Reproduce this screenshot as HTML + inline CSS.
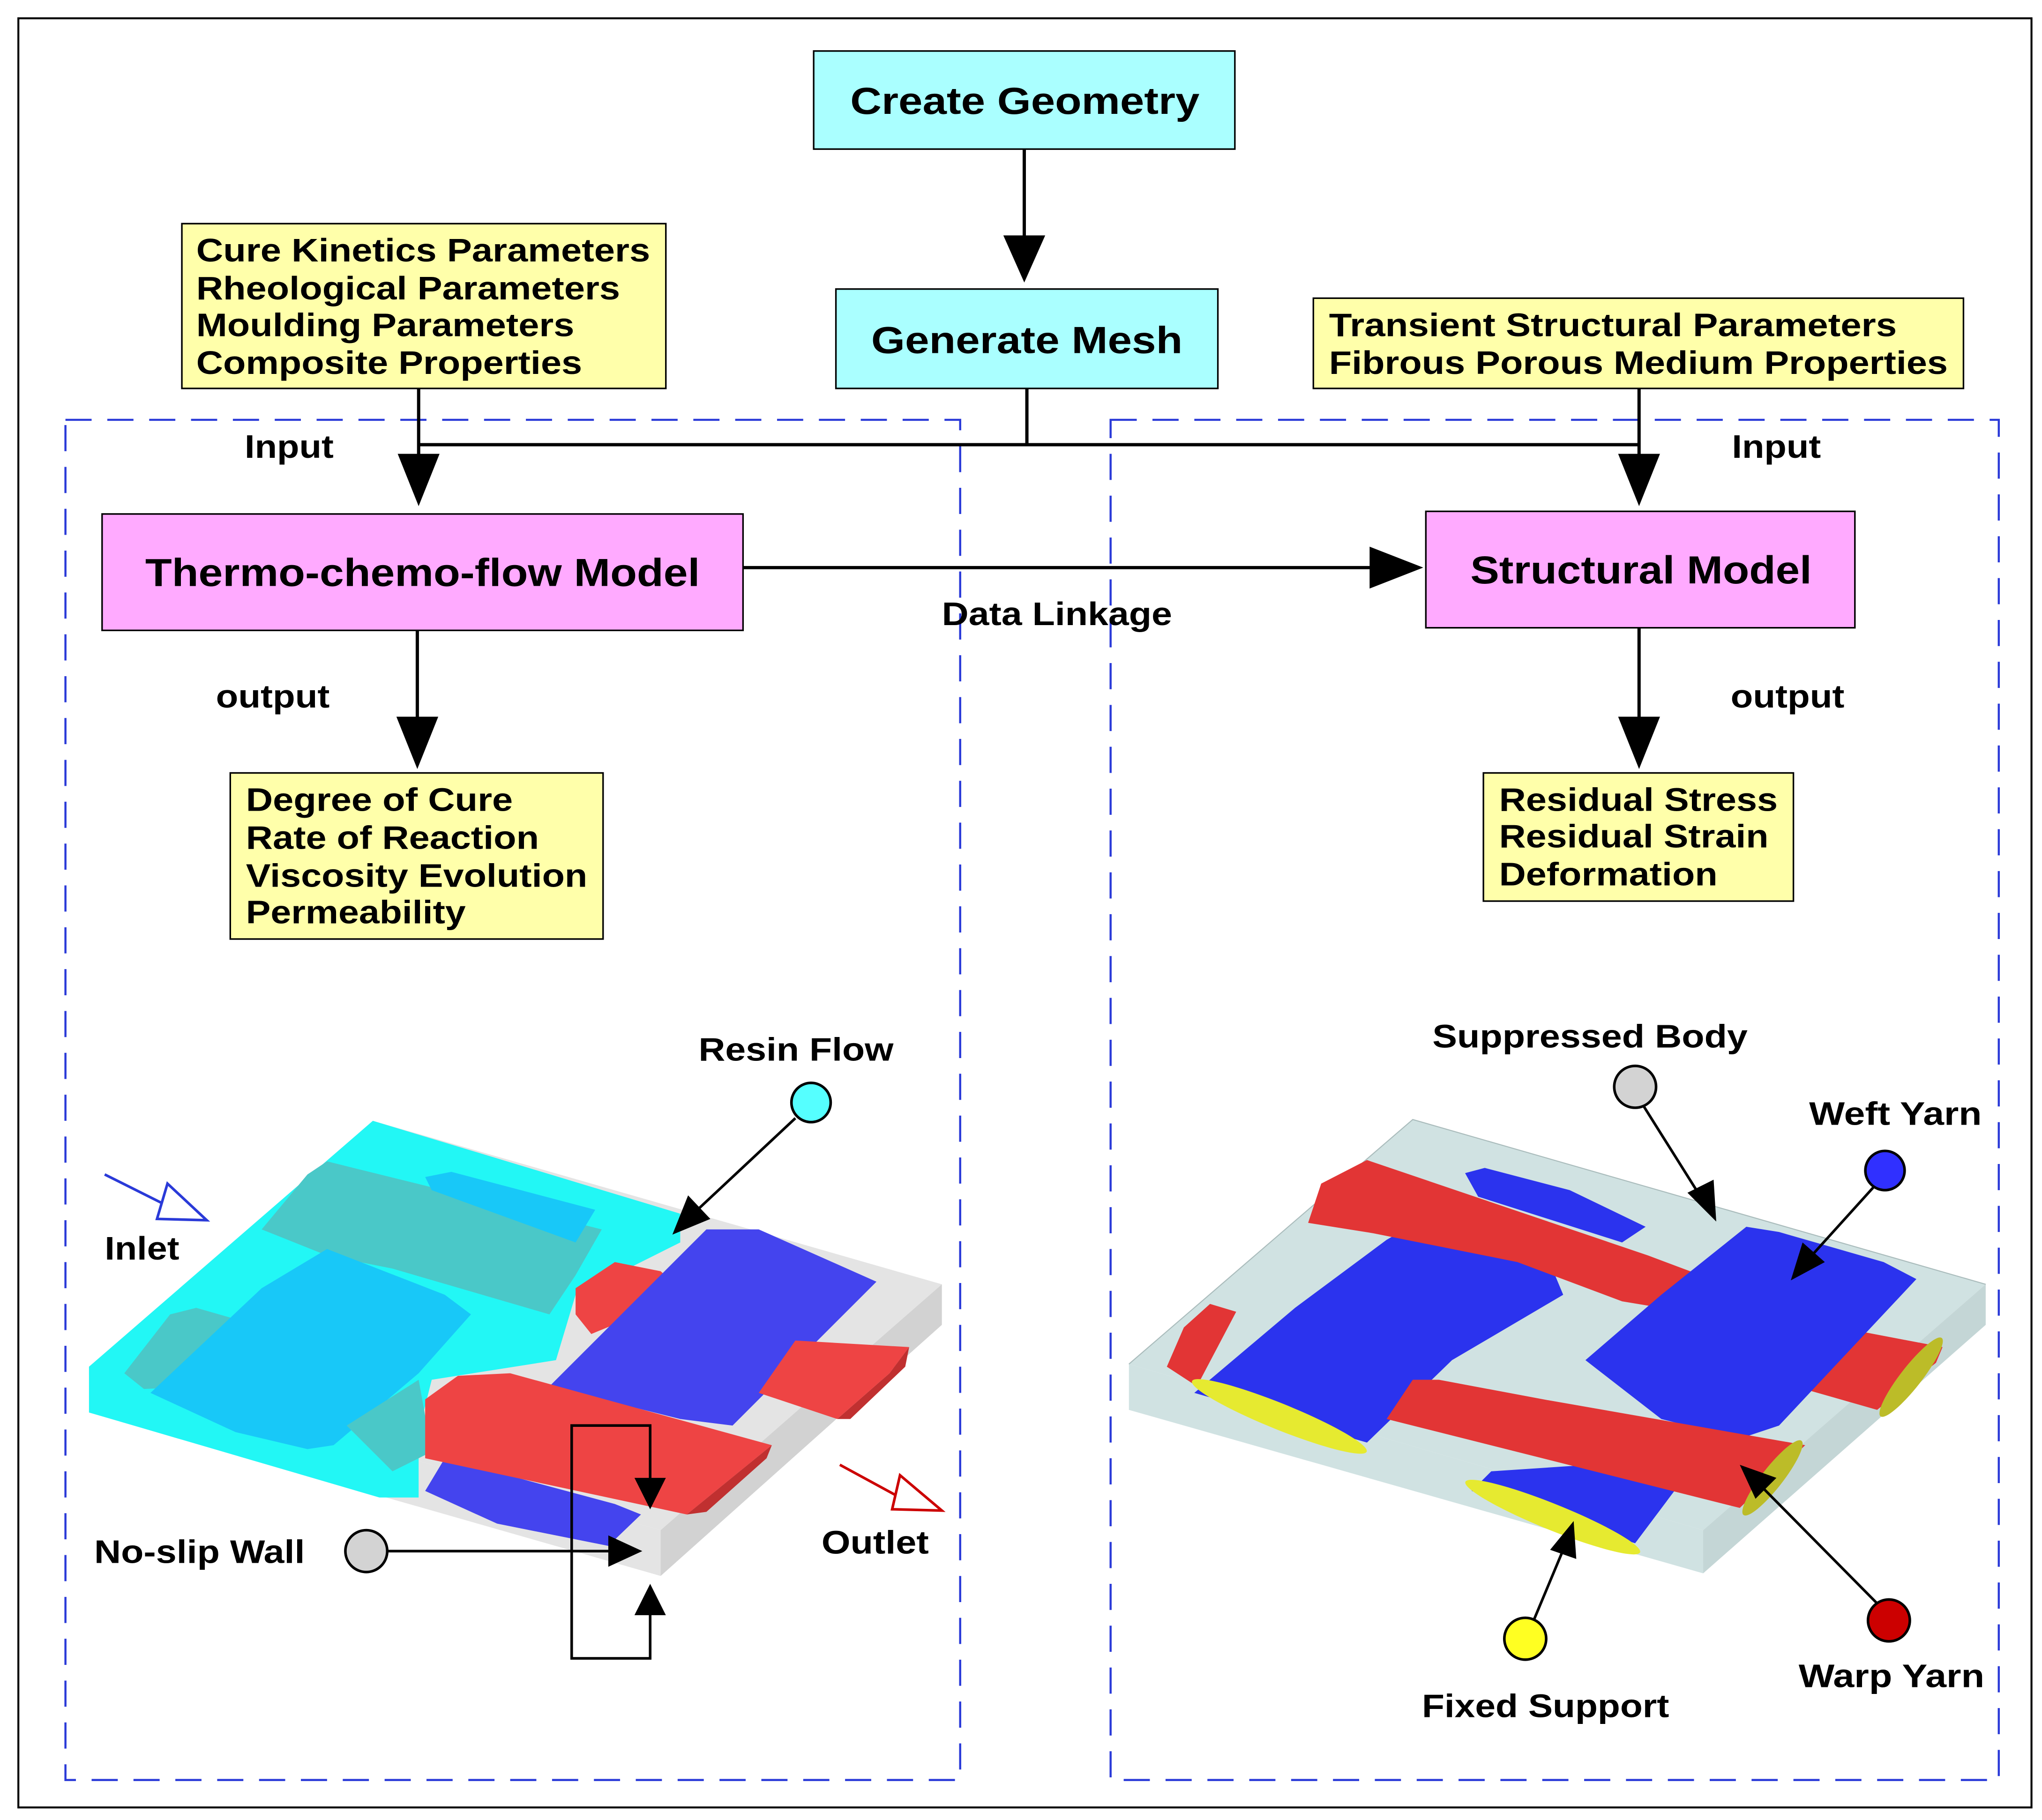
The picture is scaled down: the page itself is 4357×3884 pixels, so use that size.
<!DOCTYPE html>
<html><head><meta charset="utf-8">
<style>
html,body{margin:0;padding:0;background:#fff;}
svg{display:block;}
text{font-family:"Liberation Sans",Arial,sans-serif;font-weight:bold;fill:#000;}
</style></head>
<body>
<svg width="4357" height="3884" viewBox="0 0 1561 1391.6" xmlns="http://www.w3.org/2000/svg">
<rect x="0" y="0" width="1561" height="1391.6" fill="#fff"/>
<rect x="14" y="14" width="1539" height="1368" fill="none" stroke="#000" stroke-width="1.5"/>

<rect x="50" y="321" width="684" height="1040" fill="none" stroke="#2a3ad8" stroke-width="1.6" stroke-dasharray="20,12"/>
<rect x="849" y="321" width="679" height="1040" fill="none" stroke="#2a3ad8" stroke-width="1.6" stroke-dasharray="20,12"/>

<rect x="622" y="39" width="322" height="75" fill="#aaffff" stroke="#000" stroke-width="1.2"/>
<text x="650" y="87" font-size="29" textLength="267" lengthAdjust="spacingAndGlyphs">Create Geometry</text>
<line x1="783" y1="114" x2="783" y2="182" stroke="#000" stroke-width="2.5"/>
<polygon points="767,180 799,180 783,216" fill="#000"/>
<rect x="639" y="221" width="292" height="76" fill="#aaffff" stroke="#000" stroke-width="1.2"/>
<text x="666" y="270" font-size="29" textLength="238" lengthAdjust="spacingAndGlyphs">Generate Mesh</text>

<line x1="785" y1="297" x2="785" y2="340" stroke="#000" stroke-width="2.5"/>
<line x1="320" y1="340" x2="1253" y2="340" stroke="#000" stroke-width="2.5"/>

<rect x="139" y="171" width="370" height="126" fill="#ffffaa" stroke="#000" stroke-width="1.2"/>
<g font-size="25">
<text x="150" y="200" font-size="25" textLength="347" lengthAdjust="spacingAndGlyphs">Cure Kinetics Parameters</text>
<text x="150" y="229" font-size="25" textLength="324" lengthAdjust="spacingAndGlyphs">Rheological Parameters</text>
<text x="150" y="257" font-size="25" textLength="289" lengthAdjust="spacingAndGlyphs">Moulding Parameters</text>
<text x="150" y="286" font-size="25" textLength="295" lengthAdjust="spacingAndGlyphs">Composite Properties</text>
</g>

<rect x="1004" y="228" width="497" height="69" fill="#ffffaa" stroke="#000" stroke-width="1.2"/>
<text x="1016" y="257" font-size="25" textLength="434" lengthAdjust="spacingAndGlyphs">Transient Structural Parameters</text>
<text x="1016" y="286" font-size="25" textLength="473" lengthAdjust="spacingAndGlyphs">Fibrous Porous Medium Properties</text>

<line x1="320" y1="297" x2="320" y2="350" stroke="#000" stroke-width="2.5"/>
<polygon points="304,347 336,347 320,387" fill="#000"/>
<line x1="1253" y1="297" x2="1253" y2="350" stroke="#000" stroke-width="2.5"/>
<polygon points="1237,347 1269,347 1253,387" fill="#000"/>

<text x="187" y="350" font-size="25" textLength="68" lengthAdjust="spacingAndGlyphs">Input</text>
<text x="1324" y="350" font-size="25" textLength="68" lengthAdjust="spacingAndGlyphs">Input</text>

<rect x="78" y="393" width="490" height="89" fill="#ffaaff" stroke="#000" stroke-width="1.2"/>
<text x="111" y="448" font-size="30" textLength="424" lengthAdjust="spacingAndGlyphs">Thermo-chemo-flow Model</text>
<rect x="1090" y="391" width="328" height="89" fill="#ffaaff" stroke="#000" stroke-width="1.2"/>
<text x="1124" y="446" font-size="30" textLength="261" lengthAdjust="spacingAndGlyphs">Structural Model</text>

<line x1="568" y1="434" x2="1050" y2="434" stroke="#000" stroke-width="2.5"/>
<polygon points="1047,418 1047,450 1088,434" fill="#000"/>
<text x="720" y="478" font-size="25" textLength="176" lengthAdjust="spacingAndGlyphs">Data Linkage</text>

<line x1="319" y1="482" x2="319" y2="550" stroke="#000" stroke-width="2.5"/>
<polygon points="303,548 335,548 319,588" fill="#000"/>
<line x1="1253" y1="480" x2="1253" y2="550" stroke="#000" stroke-width="2.5"/>
<polygon points="1237,548 1269,548 1253,588" fill="#000"/>
<text x="165" y="541" font-size="25" textLength="87" lengthAdjust="spacingAndGlyphs">output</text>
<text x="1323" y="541" font-size="25" textLength="87" lengthAdjust="spacingAndGlyphs">output</text>

<rect x="176" y="591" width="285" height="127" fill="#ffffaa" stroke="#000" stroke-width="1.2"/>
<text x="188" y="620" font-size="25" textLength="204" lengthAdjust="spacingAndGlyphs">Degree of Cure</text>
<text x="188" y="649" font-size="25" textLength="224" lengthAdjust="spacingAndGlyphs">Rate of Reaction</text>
<text x="188" y="678" font-size="25" textLength="261" lengthAdjust="spacingAndGlyphs">Viscosity Evolution</text>
<text x="188" y="706" font-size="25" textLength="168" lengthAdjust="spacingAndGlyphs">Permeability</text>
<rect x="1134" y="591" width="237" height="98" fill="#ffffaa" stroke="#000" stroke-width="1.2"/>
<text x="1146" y="620" font-size="25" textLength="213" lengthAdjust="spacingAndGlyphs">Residual Stress</text>
<text x="1146" y="648" font-size="25" textLength="206" lengthAdjust="spacingAndGlyphs">Residual Strain</text>
<text x="1146" y="677" font-size="25" textLength="167" lengthAdjust="spacingAndGlyphs">Deformation</text>

<!-- LEFT 3D -->
<polygon points="68,1045 285,857 720,982 505,1170" fill="#e4e4e4"/>
<polygon points="505,1170 720,982 720,1013 505,1205" fill="#d2d2d2"/>
<polygon points="68,1045 505,1170 505,1205 68,1080" fill="#e4e4e4"/>
<polygon points="68,1045 285,857 520,928 520,950 440,990 425,1040 330,1055 320,1095 320,1145 290,1145 68,1080" fill="#22f7f5"/>
<polygon points="200,940 235,898 250,888 460,940 440,975 420,1005 300,970 250,960" fill="#4ac8c8"/>
<polygon points="325,900 345,896 455,925 440,950 330,910" fill="#18c8f8"/>
<polygon points="95,1050 130,1005 150,1000 220,1020 200,1045 160,1060 110,1062" fill="#4ac8c8"/>
<polygon points="115,1065 200,985 250,955 340,990 360,1005 320,1050 255,1105 235,1108 180,1095" fill="#18c8f8"/>
<polygon points="265,1090 320,1055 330,1110 300,1125" fill="#4ac8c8"/>
<polygon points="440,985 470,965 505,972 525,990 452,1020 440,1005" fill="#ee4444"/>
<polygon points="420,1060 490,990 540,940 580,940 670,980 560,1090 520,1085" fill="#4444ee"/>
<polygon points="580,1065 608,1025 695,1030 680,1050 640,1085" fill="#ee4444"/>
<polygon points="640,1085 680,1050 695,1030 692,1045 650,1085" fill="#c03030"/>
<polygon points="325,1140 340,1115 470,1150 490,1158 465,1182 380,1165" fill="#4444ee"/>
<polygon points="325,1070 350,1052 390,1050 590,1105 525,1158 325,1115" fill="#ee4444"/>
<polygon points="525,1158 590,1105 586,1115 540,1156" fill="#c03030"/>

<line x1="80" y1="898" x2="128" y2="922" stroke="#2a3ad8" stroke-width="2"/>
<polygon points="128,905 158,933 120,932" fill="#fff" stroke="#2a3ad8" stroke-width="2"/>
<text x="80" y="963" font-size="25" textLength="57" lengthAdjust="spacingAndGlyphs">Inlet</text>
<line x1="642" y1="1120" x2="688" y2="1145" stroke="#cc0000" stroke-width="2"/>
<polygon points="688,1128 720,1155 682,1154" fill="#fff" stroke="#cc0000" stroke-width="2"/>
<text x="628" y="1188" font-size="25" textLength="82" lengthAdjust="spacingAndGlyphs">Outlet</text>
<text x="534" y="811" font-size="25" textLength="149" lengthAdjust="spacingAndGlyphs">Resin Flow</text>
<line x1="608" y1="855" x2="530" y2="928" stroke="#000" stroke-width="2"/>
<polygon points="514,944 526,914 543,932" fill="#000"/>
<circle cx="620" cy="843" r="15" fill="#55ffff" stroke="#000" stroke-width="2"/>
<text x="72" y="1195" font-size="25" textLength="161" lengthAdjust="spacingAndGlyphs">No-slip Wall</text>
<line x1="296" y1="1186" x2="470" y2="1186" stroke="#000" stroke-width="2"/>
<polygon points="465,1174 465,1198 491,1186" fill="#000"/>
<circle cx="280" cy="1186" r="16" fill="#d3d3d3" stroke="#000" stroke-width="2"/>
<polyline points="497,1132 497,1090 437,1090 437,1268 497,1268 497,1232" fill="none" stroke="#000" stroke-width="2"/>
<polygon points="485,1130 509,1130 497,1154" fill="#000"/>
<polygon points="485,1235 509,1235 497,1211" fill="#000"/>

<!-- RIGHT 3D -->
<polygon points="863,1043 1080,856 1518,982 1302,1170" fill="#d0e2e2"/>
<polygon points="1302,1170 1518,982 1518,1013 1302,1203" fill="#c4d6d6"/>
<polygon points="863,1043 1302,1170 1302,1203 863,1078" fill="#d0e2e2"/>
<polyline points="863,1043 1080,856 1518,982" fill="none" stroke="#aabcbc" stroke-width="0.8"/>
<polygon points="1120,897 1135,893 1200,910 1258,938 1240,950 1130,915" fill="#2b33ee"/>
<polygon points="1060,948 1100,925 1170,930 1195,990 1110,1040 1045,1103 913,1065 990,1000" fill="#2b33ee"/>
<polygon points="1000,935 1010,905 1045,887 1260,960 1300,975 1270,1000 1240,995 1160,965 1050,943" fill="#e23535"/>
<polygon points="1380,1010 1485,1030 1480,1042 1435,1078 1330,1048" fill="#e23535"/>
<polygon points="1212,1040 1270,990 1335,938 1360,942 1440,965 1465,978 1360,1090 1330,1100 1270,1085" fill="#2b33ee"/>
<polygon points="892,1045 905,1015 925,997 945,1003 915,1060" fill="#e23535"/>
<polygon points="1125,1140 1140,1125 1215,1120 1280,1140 1250,1180" fill="#2b33ee"/>
<polygon points="1060,1085 1080,1055 1100,1055 1180,1070 1380,1105 1330,1153" fill="#e23535"/>
<ellipse cx="978" cy="1083" rx="72" ry="10" transform="rotate(22 978 1083)" fill="#e6ea30"/>
<ellipse cx="1187" cy="1160" rx="72" ry="10" transform="rotate(22 1187 1160)" fill="#e6ea30"/>
<ellipse cx="1461" cy="1053" rx="38" ry="8" transform="rotate(-52 1461 1053)" fill="#bcbc28"/>
<ellipse cx="1355" cy="1130" rx="36" ry="8" transform="rotate(-52 1355 1130)" fill="#bcbc28"/>

<text x="1095" y="801" font-size="25" textLength="241" lengthAdjust="spacingAndGlyphs">Suppressed Body</text>
<line x1="1256" y1="845" x2="1300" y2="915" stroke="#000" stroke-width="2"/>
<polygon points="1312,934 1290,912 1310,902" fill="#000"/>
<circle cx="1250" cy="831" r="16" fill="#d3d3d3" stroke="#000" stroke-width="2"/>
<text x="1383" y="860" font-size="25" textLength="132" lengthAdjust="spacingAndGlyphs">Weft Yarn</text>
<line x1="1432" y1="908" x2="1385" y2="960" stroke="#000" stroke-width="2"/>
<polygon points="1369,979 1378,950 1395,965" fill="#000"/>
<circle cx="1441" cy="895" r="15" fill="#3030ff" stroke="#000" stroke-width="2"/>
<line x1="1435" y1="1226" x2="1345" y2="1135" stroke="#000" stroke-width="2"/>
<polygon points="1330,1120 1358,1130 1342,1146" fill="#000"/>
<circle cx="1444" cy="1239" r="16" fill="#cc0000" stroke="#000" stroke-width="2"/>
<text x="1375" y="1290" font-size="25" textLength="142" lengthAdjust="spacingAndGlyphs">Warp Yarn</text>
<line x1="1172" y1="1240" x2="1195" y2="1185" stroke="#000" stroke-width="2"/>
<polygon points="1203,1163 1205,1192 1185,1185" fill="#000"/>
<circle cx="1166" cy="1253" r="16" fill="#ffff22" stroke="#000" stroke-width="2"/>
<text x="1087" y="1313" font-size="25" textLength="189" lengthAdjust="spacingAndGlyphs">Fixed Support</text>
</svg>
</body></html>
